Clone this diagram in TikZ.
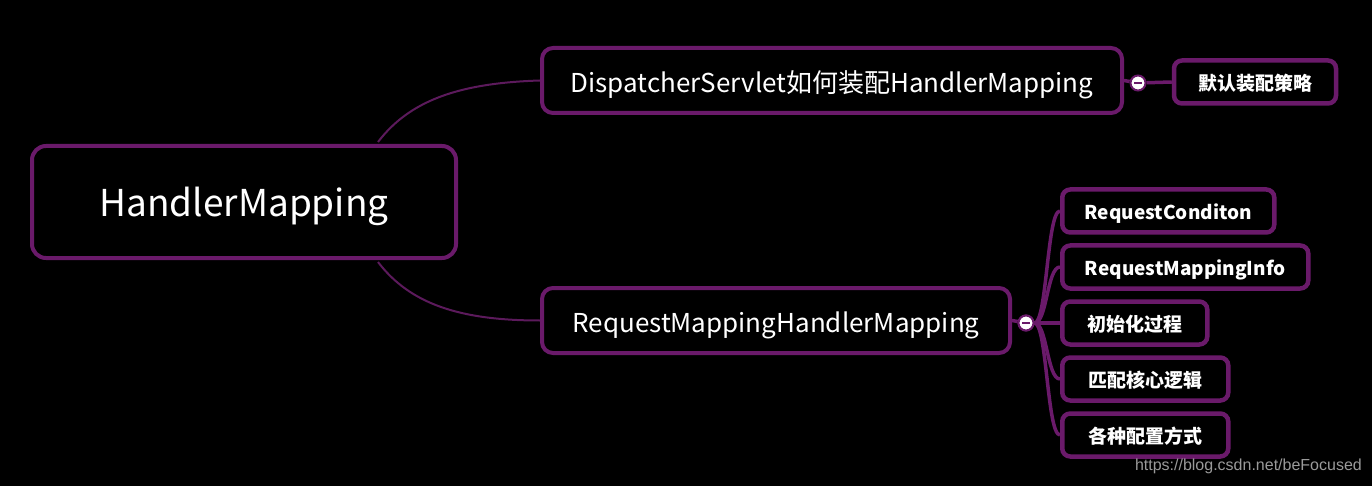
\documentclass[tikz,border=0pt]{standalone}
\usepackage{fontspec}
\setmainfont{Noto Sans CJK SC}
\newfontfamily\markfont{Liberation Sans}
\usetikzlibrary{positioning}
\definecolor{mmpurple}{HTML}{6A1A6A}
\definecolor{mmline}{HTML}{5C1A5C}
\definecolor{mmgray}{HTML}{9A9A9A}

\begin{document}
\begin{tikzpicture}[x=1pt, y=-1pt,
    topic/.style={draw=mmpurple, fill=black, text=white, line width=4pt,
                  rounded corners=11pt, inner sep=0pt, text depth=0pt},
    roottopic/.style={topic, minimum width=424pt, minimum height=112pt,
                  rounded corners=14pt, text height=30pt,
                  font=\fontsize{37}{40}\selectfont},
    maintopic/.style={topic, minimum height=65pt, text height=24.4pt,
                  font=\fontsize{26}{28}\selectfont},
    leaf/.style={topic, line width=4.5pt, minimum height=43pt, rounded corners=8pt,
                 text height=16.6pt, font=\fontsize{19}{21}\selectfont\bfseries},
    fold/.style={circle, draw=mmpurple, fill=white, line width=2pt,
                 minimum size=15pt, inner sep=0pt},
    branch/.style={mmline, line width=2pt},
    stem/.style={mmpurple, line width=3.5pt},
  ]
  \fill[black] (0,0) rectangle (1372,486);

  % ===== central topic and its two branches =====
  \node[roottopic] (root) at (244,202) {HandlerMapping};
  \coordinate (rootT) at (378,142);
  \coordinate (rootB) at (378,262);

  \node[maintopic, minimum width=580pt] (disp) at (832,80.5)
    {DispatcherServlet如何装配HandlerMapping};
  \node[maintopic, minimum width=468pt] (req) at (776,320.5)
    {RequestMappingHandlerMapping};

  \draw[branch] (rootT) .. controls (410,100) and (460,83) .. (disp.west);
  \draw[branch] (rootB) .. controls (410,304) and (460,320.5) .. (req.west);

  % ===== subtopic of DispatcherServlet =====
  \node[fold] (f1) at (1138,83) {};
  \node[leaf, minimum width=162pt] (dflt) at (1255,82) {默认装配策略};
  \draw[stem] (disp.east) -- (f1);
  \draw[stem] (f1) -- (dflt.west);
  \draw[mmpurple, line width=2pt] (f1.center) +(-4,0) -- +(4,0);

  % ===== subtopics of RequestMappingHandlerMapping =====
  \node[fold] (f2) at (1026,323) {};
  \node[leaf, minimum width=212pt, anchor=west] (cond) at (1060,211) {RequestConditon};
  \node[leaf, minimum width=246pt, below=8.5pt of cond.south west, anchor=north west] (info) {RequestMappingInfo};
  \node[leaf, minimum width=145pt, below=8.5pt of info.south west, anchor=north west] (init) {初始化过程};
  \node[leaf, minimum width=166pt, below=8.5pt of init.south west, anchor=north west] (match) {匹配核心逻辑};
  \node[leaf, minimum width=166pt, below=8.5pt of match.south west, anchor=north west] (conf) {各种配置方式};

  \draw[stem] (req.east) -- (f2);
  \coordinate (spine) at (1047,323);
  \foreach \k in {cond, info, init, match, conf}
    \draw[stem] (f2.east) .. controls (spine) and (spine |- \k.west) .. (\k.west);
  \node[fold] at (f2) {};
  \draw[mmpurple, line width=2pt] (f2.center) +(-4,0) -- +(4,0);

  % ===== watermark =====
  \node[anchor=east, text=mmgray, font=\markfont\fontsize{16}{18}\selectfont, inner sep=0pt]
    (mark) at (1362,466) {https://blog.csdn.net/beFocused};
\end{tikzpicture}
\end{document}
